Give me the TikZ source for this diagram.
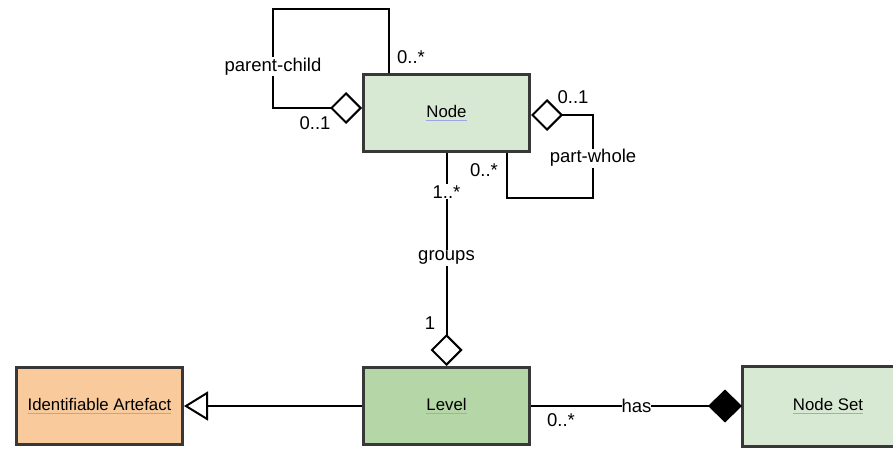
\documentclass[tikz,border=0pt]{standalone}
\usepackage{fontspec}
\setmainfont{Liberation Sans}
\usetikzlibrary{arrows.meta}

\definecolor{boxline}{HTML}{383838}
\definecolor{nodegreen}{HTML}{D7E9D3}
\definecolor{levelgreen}{HTML}{B5D6A6}
\definecolor{artefactorange}{HTML}{F8CA9C}
\definecolor{linkblue}{HTML}{9EA6E6}

% underlined box title
\newcommand{\ulink}[1]{\setbox0\hbox{#1}\rlap{\color{linkblue}\rule[-3.5pt]{\wd0}{1.2pt}}\box0}

\tikzset{
  classbox/.style={draw=boxline, line width=3pt, minimum width=166pt, minimum height=77pt,
    inner sep=0pt, font=\fontsize{16.8}{20}\selectfont},
  assoc/.style={line width=2pt, black},
  lbl/.style={font=\fontsize{18.5}{22}\selectfont, inner sep=1pt},
  onwire/.style={lbl, fill=white},
  aggr/.style={-{Diamond[open, length=32pt, width=32pt]}},
  compo/.style={-{Diamond[length=34pt, width=33pt]}},
  inherit/.style={-{Triangle[open, length=24pt, width=29pt]}},
}

\begin{document}
\begin{tikzpicture}[x=1pt, y=-1pt]
  \useasboundingbox (0,0) rectangle (893,449);
  \clip (0,0) rectangle (893,449);

  % classes
  \node[classbox, fill=nodegreen] (Node) at (446.5,113.5) {\ulink{Node}};
  \node[classbox, fill=levelgreen] (Level) at (446.5,406) {\ulink{Level}};
  \node[classbox, fill=artefactorange] (Artefact) at (99.5,406) {\ulink{Identifiable Artefact}};
  % Node Set runs off the right edge
  \node[classbox, draw=none, fill=nodegreen, minimum width=169pt] (NodeSet) at (828,406) {\ulink{Node Set}};
  \draw[boxline, line width=3pt] (NodeSet.north east) -- (NodeSet.north west)
    -- (NodeSet.south west) -- (NodeSet.south east);

  % parent-child loop on the left
  \draw[assoc, aggr] ([xshift=27pt]Node.north west) |- (273,9)
    -- node[onwire, pos=0.58] {parent-child} (273,108) -- ([yshift=5.5pt]Node.west);
  \node[lbl] at (411,57) {0..*};
  \node[lbl] at (315,123) {0..1};

  % part-whole loop on the right
  \draw[assoc, aggr] ([xshift=-24pt]Node.south east) |- (593,198)
    -- node[onwire, pos=0.48] {part-whole} (593,115) -- ([yshift=-1.5pt]Node.east);
  \node[lbl] at (573,97) {0..1};
  \node[lbl] at (484,170) {0..*};

  % groups
  \draw[assoc, aggr] (Node.south) -- node[onwire, pos=0.18] {1..*}
    node[onwire, pos=0.49] {groups} (Level.north);
  \node[lbl] at (430,323) {1};

  % generalisation
  \draw[assoc, inherit] (Level.west) -- (Artefact.east);

  % has
  \draw[assoc, compo] (Level.east) -- node[onwire, inner sep=0pt] {has} (NodeSet.west);
  \node[lbl] at (561,420) {0..*};
\end{tikzpicture}
\end{document}
